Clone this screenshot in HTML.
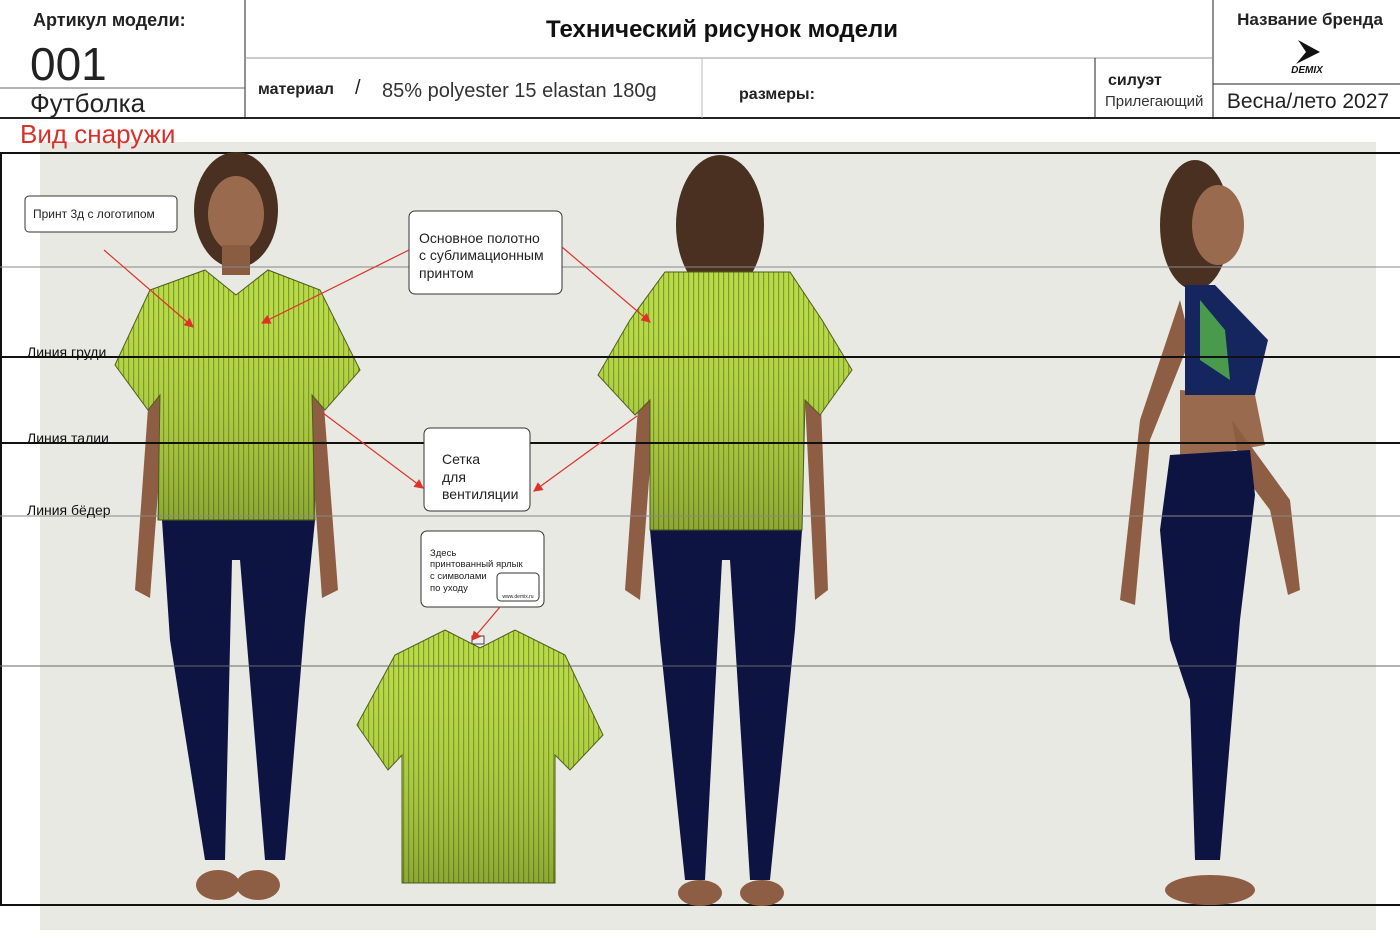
<!DOCTYPE html>
<html><head><meta charset="utf-8"><style>
body{margin:0;width:1400px;height:942px;background:#fff;overflow:hidden;font-family:"Liberation Sans",sans-serif}
</style></head><body>
<svg width="1400" height="942" viewBox="0 0 1400 942" xmlns="http://www.w3.org/2000/svg" font-family="Liberation Sans, sans-serif">
<defs>
<pattern id="st" width="5" height="10" patternUnits="userSpaceOnUse"><rect width="5" height="10" fill="#b9da48"/><rect x="3" width="1.2" height="10" fill="#7c9a2a"/></pattern>
<linearGradient id="sh" x1="0" y1="0" x2="0" y2="1"><stop offset="0" stop-color="#c2e04e" stop-opacity="0"/><stop offset="1" stop-color="#3a4a10" stop-opacity=".35"/></linearGradient>
<marker id="ar" markerWidth="8" markerHeight="8" refX="7" refY="4" orient="auto"><path d="M0,0L8,4L0,8z" fill="#e0302a"/></marker>
</defs>
<!-- header -->
<g stroke="#222" fill="none">
<line x1="0" y1="118" x2="1400" y2="118" stroke-width="2"/>
<line x1="245" y1="0" x2="245" y2="118"/>
<line x1="1213" y1="0" x2="1213" y2="118"/>
<line x1="245" y1="58" x2="1213" y2="58" stroke="#999"/>
<line x1="0" y1="88" x2="245" y2="88" stroke="#666"/>
<line x1="702" y1="58" x2="702" y2="118" stroke="#bbb"/>
<line x1="1095" y1="58" x2="1095" y2="118"/>
<line x1="1213" y1="84" x2="1400" y2="84"/>
</g>
<text x="33" y="26" font-size="18" font-weight="bold" fill="#222">Артикул модели:</text>
<text x="30" y="80" font-size="46" fill="#222">001</text>
<text x="30" y="112" font-size="26" fill="#222">Футболка</text>
<text x="722" y="37" font-size="24" font-weight="bold" fill="#111" text-anchor="middle">Технический рисунок модели</text>
<text x="258" y="94" font-size="16" font-weight="bold" fill="#222">материал</text>
<text x="355" y="94" font-size="20" fill="#222">/</text>
<text x="382" y="97" font-size="20" fill="#333">85% polyester 15 elastan 180g</text>
<text x="739" y="99" font-size="16" font-weight="bold" fill="#222">размеры:</text>
<text x="1108" y="85" font-size="16" font-weight="bold" fill="#222">силуэт</text>
<text x="1105" y="106" font-size="15" fill="#333">Прилегающий</text>
<text x="1310" y="25" font-size="17" font-weight="bold" fill="#222" text-anchor="middle">Название бренда</text>
<path d="M1298,40 L1320,52 L1296,64 L1306,52z" fill="#111"/>
<text x="1307" y="73" font-size="10" font-weight="bold" font-style="italic" fill="#111" text-anchor="middle">DEMIX</text>
<text x="1308" y="108" font-size="21" fill="#222" text-anchor="middle">Весна/лето 2027</text>
<!-- panel -->
<rect x="40" y="142" width="1336" height="788" fill="#e9e9e3"/>
<text x="20" y="143" font-size="26" fill="#d9302a">Вид снаружи</text>
<rect x="1" y="153" width="1410" height="752" fill="none" stroke="#111" stroke-width="2"/>
<!-- figure 1 front -->
<g>
<ellipse cx="236" cy="210" rx="42" ry="58" fill="#4a3020"/>
<ellipse cx="236" cy="214" rx="28" ry="38" fill="#9a6a4e"/>
<rect x="222" y="245" width="28" height="30" fill="#8a5c42"/>
<path d="M150,380 L135,590 L150,598 L165,400z M322,380 L338,590 L322,598 L308,400z" fill="#8e5e44"/>
<path d="M162,520 L315,520 L305,620 L285,860 L265,860 L240,560 L232,560 L225,860 L205,860 L170,640z" fill="#0d1442"/>
<ellipse cx="218" cy="885" rx="22" ry="15" fill="#8e5e44"/><ellipse cx="258" cy="885" rx="22" ry="15" fill="#8e5e44"/>
<path d="M205,270 L236,295 L268,270 L320,290 L360,370 L325,410 L312,395 L315,520 L158,520 L160,395 L148,410 L115,365 L150,290z" fill="url(#st)" stroke="#4a5a1a"/>
<path d="M205,270 L236,295 L268,270 L320,290 L360,370 L325,410 L312,395 L315,520 L158,520 L160,395 L148,410 L115,365 L150,290z" fill="url(#sh)"/>
</g>
<!-- figure 2 back -->
<g>
<ellipse cx="720" cy="225" rx="44" ry="70" fill="#4a3020"/>
<path d="M640,380 L625,590 L640,600 L655,400z M820,380 L828,590 L815,600 L805,400z" fill="#8e5e44"/>
<path d="M650,530 L802,530 L795,630 L770,880 L750,880 L730,560 L722,560 L705,880 L685,880 L660,640z" fill="#0d1442"/>
<ellipse cx="700" cy="893" rx="22" ry="13" fill="#8e5e44"/><ellipse cx="762" cy="893" rx="22" ry="13" fill="#8e5e44"/>
<path d="M665,272 L790,272 L822,320 L852,370 L820,415 L805,400 L802,530 L650,530 L650,400 L635,415 L598,375 L630,320z" fill="url(#st)" stroke="#4a5a1a"/>
<path d="M665,272 L790,272 L822,320 L852,370 L820,415 L805,400 L802,530 L650,530 L650,400 L635,415 L598,375 L630,320z" fill="url(#sh)"/>
</g>
<!-- figure 3 side -->
<g>
<ellipse cx="1195" cy="225" rx="35" ry="65" fill="#4a3020"/>
<ellipse cx="1218" cy="225" rx="26" ry="40" fill="#9a6a4e"/>
<path d="M1180,390 L1255,395 L1265,445 L1180,460z" fill="#9a6a4e"/>
<path d="M1180,300 L1140,420 L1120,600 L1135,605 L1150,440 L1190,340z" fill="#8e5e44"/>
<path d="M1232,420 L1290,500 L1300,590 L1288,595 L1270,510 L1240,470z" fill="#8e5e44"/>
<path d="M1185,285 L1215,285 L1268,340 L1255,395 L1185,395z" fill="#15265e"/>
<path d="M1200,300 L1225,330 L1230,380 L1200,360z" fill="#58b84a" opacity=".8"/>
<path d="M1170,455 L1250,450 L1255,495 L1240,620 L1220,860 L1195,860 L1190,700 L1170,640 L1160,530z" fill="#0d1442"/>
<ellipse cx="1210" cy="890" rx="45" ry="15" fill="#8e5e44"/>
</g>
<!-- flat shirt -->
<path d="M445,630 L480,648 L515,630 L565,655 L603,735 L570,770 L555,755 L555,883 L402,883 L402,755 L388,770 L357,725 L395,655z" fill="url(#st)" stroke="#4a5a1a"/>
<path d="M445,630 L480,648 L515,630 L565,655 L603,735 L570,770 L555,755 L555,883 L402,883 L402,755 L388,770 L357,725 L395,655z" fill="url(#sh)"/>
<rect x="472" y="636" width="12" height="8" fill="#eee" stroke="#444"/>
<!-- lines -->
<g stroke-width="1">
<line x1="0" y1="267" x2="1400" y2="267" stroke="#888"/>
<line x1="0" y1="516" x2="1400" y2="516" stroke="#888"/>
<line x1="0" y1="666" x2="1400" y2="666" stroke="#666"/>
<line x1="0" y1="357" x2="1400" y2="357" stroke="#111" stroke-width="2"/>
<line x1="0" y1="443" x2="1400" y2="443" stroke="#111" stroke-width="2"/>
</g>
<text x="27" y="357" font-size="14" fill="#111">Линия груди</text>
<text x="27" y="443" font-size="14" fill="#111">Линия талии</text>
<text x="27" y="515" font-size="14" fill="#111">Линия бёдер</text>
<!-- labels -->
<g fill="#fff" stroke="#333">
<rect x="25" y="196" width="152" height="36" rx="4"/>
<rect x="409" y="211" width="153" height="83" rx="6"/>
<rect x="424" y="428" width="106" height="83" rx="6"/>
<rect x="421" y="531" width="123" height="76" rx="6"/>
<rect x="497" y="573" width="42" height="28" rx="4"/>
</g>
<text x="33" y="218" font-size="12" fill="#222">Принт 3д с логотипом</text>
<text x="419" y="243" font-size="14" fill="#222">Основное полотно</text>
<text x="419" y="260" font-size="14" fill="#222">с сублимационным</text>
<text x="419" y="278" font-size="14" fill="#222">принтом</text>
<text x="442" y="464" font-size="14" fill="#222">Сетка</text>
<text x="442" y="482" font-size="14" fill="#222">для</text>
<text x="442" y="499" font-size="14" fill="#222">вентиляции</text>
<g font-size="9.5" fill="#222"><text x="430" y="556">Здесь</text><text x="430" y="567">принтованный ярлык</text><text x="430" y="579">с символами</text><text x="430" y="591">по уходу</text></g>
<text x="518" y="598" font-size="5" fill="#222" text-anchor="middle">www.demix.ru</text>
<g stroke="#e0302a" stroke-width="1.2" marker-end="url(#ar)">
<line x1="104" y1="250" x2="193" y2="327"/>
<line x1="409" y1="250" x2="262" y2="323"/>
<line x1="562" y1="247" x2="650" y2="322"/>
<line x1="323" y1="413" x2="423" y2="488"/>
<line x1="637" y1="416" x2="534" y2="491"/>
<line x1="500" y1="607" x2="472" y2="640"/>
</g>
</svg>
</body></html>
